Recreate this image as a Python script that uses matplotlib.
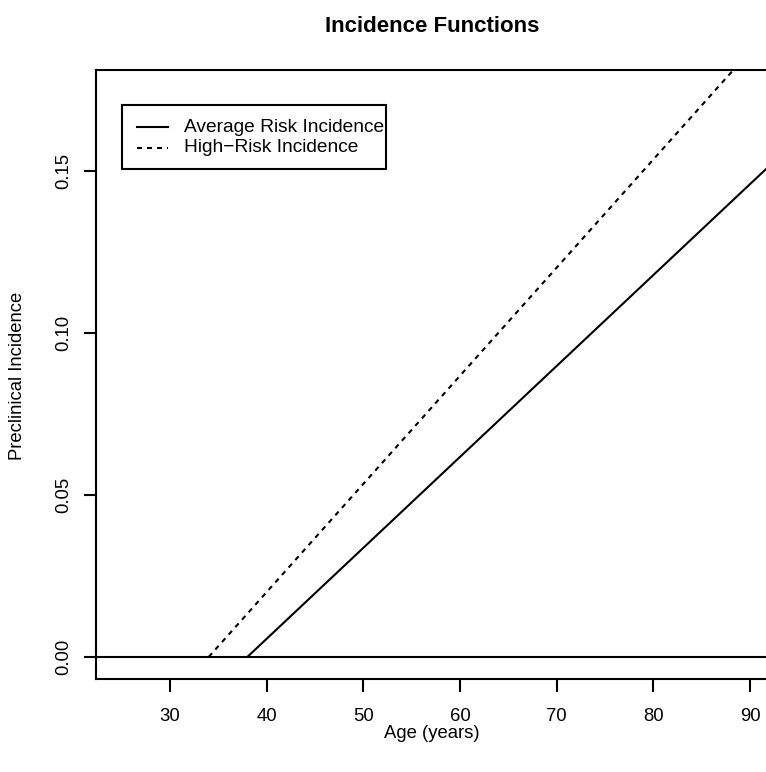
import matplotlib
matplotlib.use("Agg")
import matplotlib.pyplot as plt
from matplotlib.patches import Rectangle

plt.rcParams['font.family'] = ['Liberation Sans', 'DejaVu Sans']

# Data
avg_age = [38, 90, 95]
avg_inc = [0.0, 0.146, 0.160]
high_age = [34, 90, 95]
high_inc = [0.0, 0.187, 0.204]
xticks = [30, 40, 50, 60, 70, 80, 90]
yticks = [0.00, 0.05, 0.10, 0.15]
ytick_labels = ["0.00", "0.05", "0.10", "0.15"]
legend_labels = ["Average Risk Incidence", "High\u2212Risk Incidence"]
title = "Incidence Functions"
xlabel = "Age (years)"
ylabel = "Preclinical Incidence"

W, H = 766, 772
fs = 13.3
fig = plt.figure(figsize=(W/100, H/100), dpi=100)
ax = fig.add_axes([96/W, 1-679/H, (768-96)/W, (679-70)/H])

lw = 1.5
ax.plot(avg_age, avg_inc, color='black', lw=lw, solid_capstyle='butt')
ax.plot(high_age, high_inc, color='black', lw=lw, linestyle=(0, (2.4, 2.4)))
ax.axhline(0, color='black', lw=lw)

ax.set_xlim(22.35, 91.85)
ax.set_ylim(-0.0068, 0.1812)
ax.set_xticks(xticks)
ax.set_xticklabels([str(t) for t in xticks])
ax.set_yticks(yticks)
ax.set_yticklabels(ytick_labels, rotation=90, va='center')
ax.tick_params(axis='both', direction='out', length=9, width=lw, labelsize=fs)
ax.tick_params(axis='x', pad=12)
ax.tick_params(axis='y', pad=8)
for s in ax.spines.values():
    s.set_linewidth(lw)

fig.text(432/W, 1-26/H, title, ha='center', va='center', fontsize=16, fontweight='bold')
fig.text(432/W, 1-734/H, xlabel, ha='center', va='center', fontsize=fs)
fig.text(18/W, 1-376/H, ylabel, ha='center', va='center', fontsize=fs, rotation=90)

# Legend box (figure pixel coordinates)
def fx(px):
    return px / W
def fy(py):
    return 1 - py / H
fig.patches.append(Rectangle((fx(122), fy(169)), fx(386) - fx(122), fy(105) - fy(169),
                             transform=fig.transFigure, fill=False, edgecolor='black', lw=lw))
styles = ['-', (0, (2.4, 2.4))]
ys = [127, 148]
for lab, st, yy in zip(legend_labels, styles, ys):
    fig.add_artist(plt.Line2D([fx(137), fx(168)], [fy(yy), fy(yy)], color='black', lw=lw,
                              linestyle=st, transform=fig.transFigure))
    fig.text(fx(184), fy(yy), lab, ha='left', va='center', fontsize=13.8)

fig.savefig("out.png", dpi=100)
